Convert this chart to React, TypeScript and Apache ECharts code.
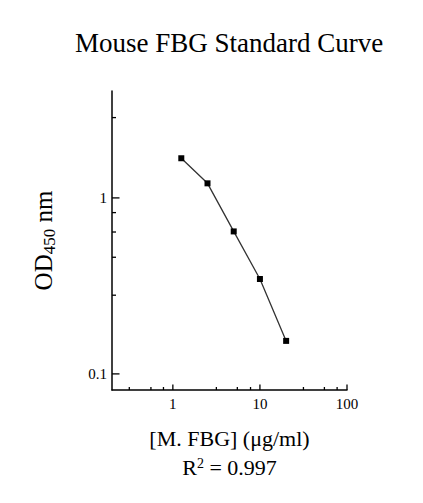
import React, { useEffect, useRef } from "react";
import * as echarts from "echarts";

// Data
const concentrations = [1.25, 2.5, 5, 10, 20];
const odValues = [1.68, 1.21, 0.645, 0.346, 0.154];

// Axis ranges (log scales)
const xMin = 0.2;
const xMax = 100;
const yMin = 0.081;
const yMax = 4.05;

// Tick values
const xMajorTicks = [1, 10, 100];
const xMinorTicks = [0.316, 0.56, 0.78, 3.16, 5.5, 7.8, 31.6, 55, 77];
const yMajorTicks = [0.1, 1];
const yMinorTicks = [0.28, 0.46, 0.64, 0.825, 2.86];

const titleText = "Mouse FBG Standard Curve";
const xName = "[M. FBG] (μg/ml)";
const r2Text = "0.997";

const FONT = "'Liberation Serif', 'Times New Roman', serif";

export default function App() {
  const ref = useRef<HTMLDivElement>(null);

  useEffect(() => {
    if (!ref.current) return;
    const chart = echarts.init(ref.current, undefined, { renderer: "svg" });

    const tickData: number[][] = [];
    xMajorTicks.forEach((v) => tickData.push([v, yMin, 0, 5.5]));
    xMinorTicks.forEach((v) => tickData.push([v, yMin, 0, 3]));
    yMajorTicks.forEach((v) => tickData.push([xMin, v, 1, 7.5]));
    yMinorTicks.forEach((v) => tickData.push([xMin, v, 1, 4]));

    chart.setOption({
      animation: false,
      backgroundColor: "#fff",
      title: {
        text: titleText,
        left: 75,
        top: 29,
        padding: 0,
        textStyle: {
          fontFamily: FONT,
          fontSize: 27,
          fontWeight: "normal",
          color: "#000",
        },
      },
      grid: {
        left: 112,
        right: 76,
        top: 91,
        bottom: 113,
        containLabel: false,
        outerBoundsMode: "none",
      },
      xAxis: {
        type: "log",
        logBase: 10,
        min: xMin,
        max: xMax,
        splitLine: { show: false },
        axisLine: { show: true, lineStyle: { color: "#000", width: 1.5 } },
        axisTick: { show: false },
        axisLabel: {
          showMinLabel: false,
          margin: 6,
          fontFamily: FONT,
          fontSize: 15,
          color: "#000",
        },
        name: xName + "\n{r|R}{sup|2}{r| = " + r2Text + "}",
        nameLocation: "middle",
        nameGap: 34,
        nameTextStyle: {
          fontFamily: FONT,
          fontSize: 22,
          color: "#000",
          lineHeight: 29,
          align: "center",
          rich: {
            r: { fontFamily: FONT, fontSize: 22, color: "#000", lineHeight: 29 },
            sup: {
              fontFamily: FONT,
              fontSize: 14,
              color: "#000",
              lineHeight: 14,
              padding: [0, 0, 9, 0],
            },
          },
        },
      },
      yAxis: {
        type: "log",
        logBase: 10,
        min: yMin,
        max: yMax,
        splitLine: { show: false },
        axisLine: { show: true, lineStyle: { color: "#000", width: 1.5 } },
        axisTick: { show: false },
        axisLabel: {
          showMinLabel: false,
          showMaxLabel: false,
          margin: 5,
          fontFamily: FONT,
          fontSize: 15,
          color: "#000",
        },
        name: "{m|OD}{sub|450}{m| nm}",
        nameLocation: "middle",
        nameGap: 56,
        nameTextStyle: {
          fontFamily: FONT,
          fontSize: 25,
          color: "#000",
          rich: {
            m: { fontFamily: FONT, fontSize: 25, color: "#000", lineHeight: 25 },
            sub: {
              fontFamily: FONT,
              fontSize: 17,
              color: "#000",
              lineHeight: 17,
              padding: [11, 0, 0, 0],
            },
          },
        },
      },
      series: [
        {
          type: "line",
          data: concentrations.map((c, i) => [c, odValues[i]]),
          symbol: "rect",
          symbolSize: 6,
          itemStyle: { color: "#000" },
          lineStyle: { color: "#333", width: 1.3 },
          silent: true,
        },
        {
          type: "custom",
          silent: true,
          clip: false,
          data: tickData,
          encode: { x: 0, y: 1 },
          renderItem: (params: any, api: any) => {
            const p = api.coord([api.value(0), api.value(1)]);
            const dir = api.value(2);
            const len = api.value(3);
            const shape =
              dir === 0
                ? { x1: p[0], y1: p[1], x2: p[0], y2: p[1] - len }
                : { x1: p[0], y1: p[1], x2: p[0] + len, y2: p[1] };
            return {
              type: "line",
              shape,
              style: { stroke: "#000", lineWidth: 1.3 },
            };
          },
        },
      ],
    });

    return () => chart.dispose();
  }, []);

  return (
    <div
      ref={ref}
      style={{ position: "absolute", left: 0, top: 0, width: 423, height: 503 }}
    />
  );
}
